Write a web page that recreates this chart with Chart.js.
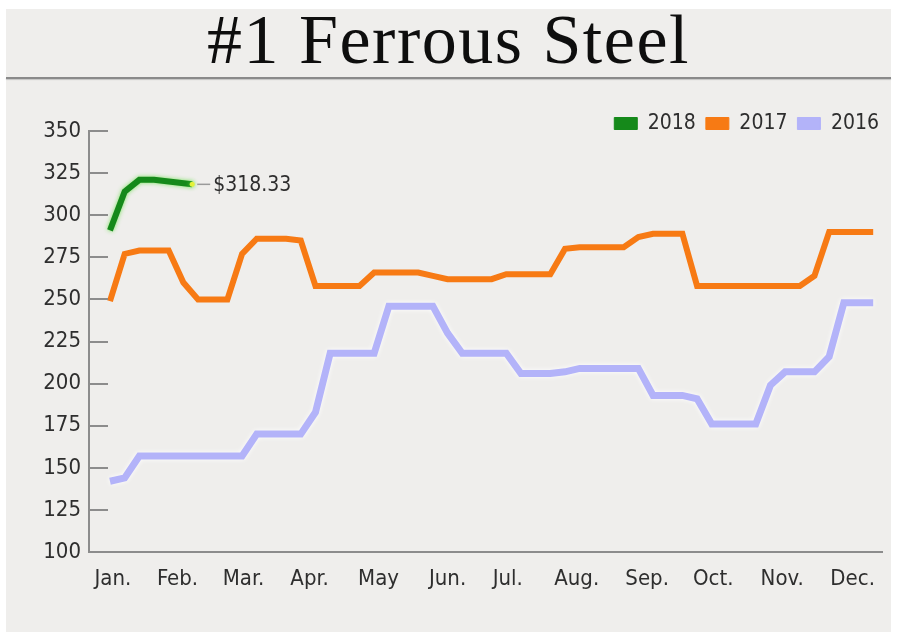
<!DOCTYPE html>
<html>
<head>
<meta charset="utf-8">
<title>#1 Ferrous Steel</title>
<script src="https://cdn.jsdelivr.net/npm/chart.js@4.4.1/dist/chart.umd.min.js"></script>
<style>
  html, body { margin: 0; padding: 0; background: #fff; }
  body { width: 897px; height: 635px; position: relative; overflow: hidden; }
  #panel { position: absolute; left: 6px; top: 9px; width: 885px; height: 623px; background: #efeeec; }
  #title {
    position: absolute; left: 0; top: 5px; width: 897px; text-align: center;
    font-family: "Liberation Serif", "Times New Roman", serif; font-size: 70px; line-height: 70px;
    letter-spacing: 1.5px; color: #0e0e0e;
  }
  #rule { position: absolute; left: 6px; top: 77px; width: 885px; height: 2px; background: #8a8a8a; box-shadow: 0 1px 1px #c4c4c4; }
  #wrap { position: absolute; left: 0; top: 103px; width: 897px; height: 522px; }
</style>
</head>
<body>
<div id="panel"></div>
<div id="title">#1 Ferrous Steel</div>
<div id="rule"></div>
<div id="wrap"><canvas id="steel-chart"></canvas></div>
<script>
const ctx = document.getElementById("steel-chart").getContext("2d");

// month labels and where they sit, in weeks from the first week of January
const months = ["Jan.", "Feb.", "Mar.", "Apr.", "May", "Jun.", "Jul.", "Aug.", "Sep.", "Oct.", "Nov.", "Dec."];
const monthWeeks = [0.2, 4.6, 9.1, 13.6, 18.3, 23.0, 27.1, 31.8, 36.6, 41.1, 45.8, 50.6];

// weekly prices, $/ton
const price2017 = [
  249, 277, 279, 279, 279, 260, 250, 250, 250, 277, 286, 286, 286, 285,
  258, 258, 258, 258, 266, 266, 266, 266, 264, 262, 262, 262, 262, 265,
  265, 265, 265, 280, 281, 281, 281, 281, 287, 289, 289, 289, 258, 258,
  258, 258, 258, 258, 258, 258, 264, 290, 290, 290, 290,
];
const price2016 = [
  142, 144, 157, 157, 157, 157, 157, 157, 157, 157, 170, 170, 170, 170,
  183, 218, 218, 218, 218, 246, 246, 246, 246, 230, 218, 218, 218, 218,
  206, 206, 206, 207, 209, 209, 209, 209, 209, 193, 193, 193, 191, 176,
  176, 176, 176, 199, 207, 207, 207, 216, 248, 248, 248,
];
const weeks2018 = [0, 1, 2, 3, 4, 5.6];
const price2018 = [291, 314, 321, 321, 320, 318.33];

const yTicks = [100, 125, 150, 175, 200, 225, 250, 275, 300, 325, 350];

const narrow = '"Liberation Sans Narrow", "Arial Narrow", "DejaVu Sans Condensed", sans-serif';
const axisColor = "#8c8c8c";

const toPoints = (values, weeks) =>
  values.map((v, i) => ({ x: weeks ? weeks[i] : i, y: v }));

const glow = {
  "2018": { color: "rgba(110, 225, 80, 0.9)", blur: 4 },
  "2016": { color: "rgba(255, 255, 255, 0.95)", blur: 5 },
};

const stylePlugin = {
  id: "styleBits",
  beforeInit(chart) {
    const fit = chart.legend.fit;
    chart.legend.fit = function () {
      fit.call(this);
      this.height = 28;
    };
  },
  afterLayout(chart) {
    chart.legend.right = chart.width - 8;
  },
  beforeDatasetDraw(chart, args) {
    const g = glow[chart.data.datasets[args.index].label];
    chart.ctx.save();
    if (g) {
      chart.ctx.shadowColor = g.color;
      chart.ctx.shadowBlur = g.blur;
    }
  },
  afterDatasetDraw(chart) {
    chart.ctx.restore();
  },
  afterDraw(chart) {
    const c = chart.ctx;
    const y = chart.scales.y;
    // short inner ticks on the y axis
    c.save();
    c.strokeStyle = axisColor;
    c.lineWidth = 2;
    y.ticks.forEach((t) => {
      const py = Math.round(y.getPixelForValue(t.value));
      c.beginPath();
      c.moveTo(chart.chartArea.left, py);
      c.lineTo(chart.chartArea.left + 19, py);
      c.stroke();
    });
    // latest 2018 price label
    const meta = chart.getDatasetMeta(0);
    const last = meta.data[meta.data.length - 1];
    c.strokeStyle = "#9a9a9a";
    c.lineWidth = 1.5;
    c.beginPath();
    c.moveTo(last.x + 5, last.y);
    c.lineTo(last.x + 18, last.y);
    c.stroke();
    c.fillStyle = "#2e2e2e";
    c.font = "21px " + narrow;
    c.textBaseline = "middle";
    c.fillText("$" + price2018[price2018.length - 1].toFixed(2), last.x + 21, last.y + 1);
    c.restore();
  },
};

new Chart(ctx, {
  type: "line",
  data: {
    datasets: [
      {
        label: "2018",
        data: toPoints(price2018, weeks2018),
        borderColor: "#15891a",
        backgroundColor: "#15891a",
        borderWidth: 6,
        pointRadius: [0, 0, 0, 0, 0, 2.5],
        pointBackgroundColor: "#e4f23a",
        pointBorderWidth: 0,
        tension: 0,
      },
      {
        label: "2017",
        data: toPoints(price2017),
        borderColor: "#f77a14",
        backgroundColor: "#f77a14",
        borderWidth: 6,
        pointRadius: 0,
        tension: 0,
      },
      {
        label: "2016",
        data: toPoints(price2016),
        borderColor: "#b3b3f9",
        backgroundColor: "#b3b3f9",
        borderWidth: 7,
        pointRadius: 0,
        tension: 0,
      },
    ],
  },
  options: {
    responsive: true,
    maintainAspectRatio: false,
    animation: false,
    layout: { padding: { left: 0, right: 15, top: 0, bottom: 0 } },
    plugins: {
      tooltip: { enabled: false },
      legend: {
        position: "top",
        align: "end",
        labels: {
          boxWidth: 23,
          boxHeight: 12,
          padding: 10,
          color: "#2e2e2e",
          font: { size: 21, family: narrow },
          generateLabels(chart) {
            const items = Chart.defaults.plugins.legend.labels.generateLabels(chart);
            items.forEach((item) => {
              item.lineWidth = 1;
              item.strokeStyle = item.fillStyle;
            });
            return items;
          },
        },
      },
    },
    scales: {
      x: {
        type: "linear",
        min: -1.43,
        max: 52.6,
        afterFit(scale) {
          scale.height = 73;
        },
        afterBuildTicks(scale) {
          scale.ticks = monthWeeks.map((w) => ({ value: w }));
        },
        ticks: {
          autoSkip: false,
          maxRotation: 0,
          padding: 14,
          color: "#2e2e2e",
          font: { size: 22, family: narrow },
          callback: (value, index) => months[index],
        },
        grid: { display: false, drawTicks: false },
        border: { display: true, color: axisColor, width: 2 },
      },
      y: {
        min: 100,
        max: 350,
        afterFit(scale) {
          scale.width = 89;
        },
        afterBuildTicks(scale) {
          scale.ticks = yTicks.map((v) => ({ value: v }));
        },
        ticks: {
          padding: 8,
          color: "#2e2e2e",
          font: { size: 22, family: narrow },
        },
        grid: { display: false, drawTicks: false },
        border: { display: true, color: axisColor, width: 2 },
      },
    },
  },
  plugins: [stylePlugin],
});
</script>
</body>
</html>
